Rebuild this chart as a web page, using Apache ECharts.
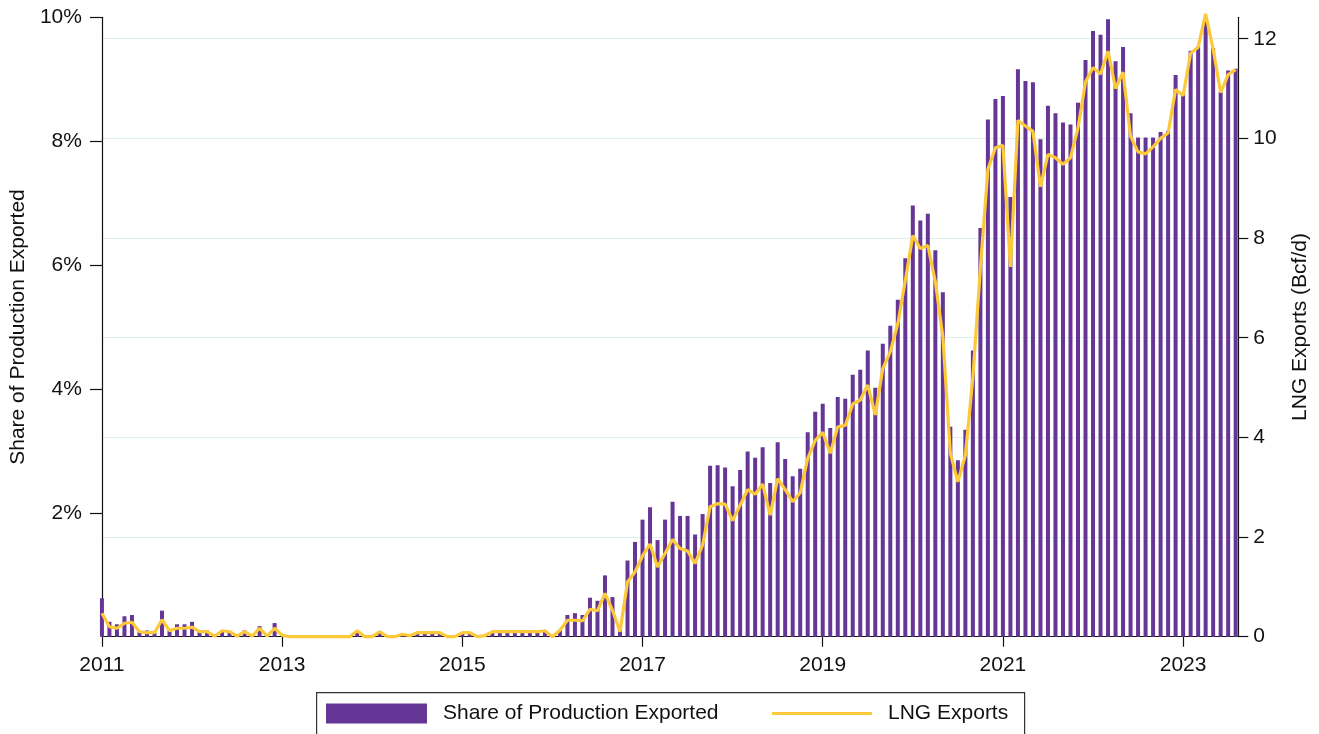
<!DOCTYPE html>
<html>
<head>
<meta charset="utf-8">
<title>LNG exports</title>
<script src="https://cdn.jsdelivr.net/npm/echarts@6/dist/echarts.min.js"></script>
<style>
  html, body { margin: 0; padding: 0; background: #fff; }
  #chart { width: 1319px; height: 734px; }
</style>
</head>
<body>
<div id="chart"></div>
<script>
// monthly, Jan 2011 .. Aug 2023
const startYear = 2011
const yearTicks = ['2011', '2013', '2015', '2017', '2019', '2021', '2023']

// share of dry gas production exported as LNG (%)
const shareExported = [
  0.62, 0.24, 0.20, 0.33, 0.35, 0.08, 0.10, 0.06, 0.42, 0.10, 0.20, 0.20,
  0.24, 0.08, 0.10, 0.03, 0.10, 0.09, 0.02, 0.10, 0.02, 0.17, 0.02, 0.22,
  0, 0, 0, 0, 0, 0, 0, 0, 0, 0, 0.08, 0,
  0, 0.08, 0, 0, 0.02, 0.02, 0.07, 0.07, 0.07, 0.07, 0, 0,
  0.07, 0.07, 0, 0.02, 0.06, 0.07, 0.07, 0.07, 0.07, 0.07, 0.08, 0.09,
  0.03, 0.10, 0.35, 0.38, 0.35, 0.63, 0.58, 0.99, 0.64, 0.15, 1.23, 1.53,
  1.89, 2.09, 1.56, 1.89, 2.18, 1.95, 1.95, 1.65, 1.98, 2.76, 2.77, 2.73,
  2.43, 2.69, 2.99, 2.89, 3.06, 2.48, 3.14, 2.87, 2.59, 2.71, 3.30, 3.63,
  3.76, 3.37, 3.87, 3.84, 4.23, 4.31, 4.62, 4.02, 4.73, 5.02, 5.44, 6.11,
  6.96, 6.72, 6.83, 6.24, 5.56, 3.39, 2.85, 3.34, 4.62, 6.60, 8.35, 8.68,
  8.73, 7.10, 9.16, 8.97, 8.95, 8.03, 8.57, 8.45, 8.30, 8.27, 8.62, 9.31,
  9.78, 9.72, 9.97, 9.29, 9.52, 8.45, 8.06, 8.06, 8.06, 8.15, 8.17, 9.07,
  8.77, 9.46, 9.53, 9.98, 9.50, 8.80, 9.14, 9.17
]

// LNG exports (Bcf/d)
const lngExports = [
  0.47, 0.20, 0.17, 0.27, 0.29, 0.10, 0.08, 0.08, 0.34, 0.12, 0.17, 0.17,
  0.19, 0.10, 0.10, 0.01, 0.12, 0.10, 0.01, 0.10, 0.01, 0.17, 0.01, 0.17,
  0.03, 0, 0, 0, 0, 0, 0, 0, 0, 0, 0.12, 0,
  0, 0.10, 0, 0, 0.05, 0.02, 0.08, 0.08, 0.08, 0.08, 0, 0,
  0.08, 0.08, 0, 0.02, 0.10, 0.10, 0.10, 0.10, 0.10, 0.10, 0.10, 0.12,
  0.00, 0.13, 0.33, 0.33, 0.32, 0.55, 0.52, 0.87, 0.53, 0.10, 1.10, 1.30,
  1.62, 1.86, 1.40, 1.67, 1.95, 1.77, 1.72, 1.47, 1.84, 2.61, 2.67, 2.66,
  2.33, 2.64, 2.95, 2.86, 3.06, 2.44, 3.17, 2.95, 2.71, 2.89, 3.58, 3.94,
  4.10, 3.68, 4.21, 4.24, 4.67, 4.75, 5.05, 4.45, 5.38, 5.72, 6.28, 7.15,
  8.05, 7.79, 7.85, 7.12, 6.02, 3.68, 3.11, 3.64, 5.21, 7.40, 9.38, 9.81,
  9.86, 7.42, 10.36, 10.25, 10.14, 9.03, 9.68, 9.61, 9.48, 9.61, 10.21, 11.13,
  11.42, 11.29, 11.75, 11.00, 11.33, 10.04, 9.73, 9.69, 9.83, 10.00, 10.11, 10.98,
  10.86, 11.71, 11.83, 12.50, 11.79, 10.92, 11.28, 11.38
]

const font = 'Liberation Sans, Arial, sans-serif'
const ink = '#111'
const barColor = '#663696'
const lineColor = '#fcc93b'

const chart = echarts.init(document.getElementById('chart'))

const option = {
  animation: false,
  backgroundColor: '#fff',
  textStyle: { fontFamily: font, color: ink },
  grid: { left: 101.7, right: 80.7, top: 17.3, bottom: 97.3 },
  graphic: [
    {
      type: 'rect',
      left: 316,
      top: 692,
      shape: { width: 708, height: 60 },
      style: { fill: '#fff', stroke: '#333', lineWidth: 1.2 },
      z: 0
    }
  ],
  legend: [
    {
      left: 326,
      top: 703,
      padding: 0,
      icon: 'rect',
      itemWidth: 101,
      itemHeight: 20,
      data: ['Share of Production Exported'],
      textStyle: { fontFamily: font, fontSize: 21, color: ink, padding: [0, 0, 0, 11] },
      z: 5
    },
    {
      left: 772,
      top: 703,
      padding: 0,
      icon: 'rect',
      itemWidth: 100,
      itemHeight: 3,
      data: ['LNG Exports'],
      textStyle: { fontFamily: font, fontSize: 21, color: ink, padding: [0, 0, 0, 11] },
      z: 5
    }
  ],
  xAxis: {
    type: 'value',
    min: 0,
    max: 151.35,
    interval: 24,
    axisLine: { lineStyle: { color: ink, width: 1.2 } },
    axisTick: { show: true, length: 10, lineStyle: { color: ink, width: 1.2 } },
    axisLabel: {
      fontFamily: font,
      fontSize: 21,
      color: ink,
      margin: 18,
      showMaxLabel: false,
      formatter: v => yearTicks[Math.round(v / 24)] || String(startYear + v / 12)
    },
    splitLine: { show: false }
  },
  yAxis: [
    {
      type: 'value',
      min: 0,
      max: 10,
      interval: 2,
      name: 'Share of Production Exported',
      nameLocation: 'middle',
      nameGap: 71,
      nameTextStyle: { fontFamily: font, fontSize: 21, color: ink },
      axisLine: { show: true, lineStyle: { color: ink, width: 1.2 } },
      axisTick: { show: true, length: 12, lineStyle: { color: ink, width: 1.2 } },
      axisLabel: {
        fontFamily: font,
        fontSize: 21,
        color: ink,
        margin: 20,
        showMinLabel: false,
        formatter: v => v + '%'
      },
      splitLine: { show: false }
    },
    {
      type: 'value',
      min: 0,
      max: 12.43,
      interval: 2,
      position: 'right',
      name: 'LNG Exports (Bcf/d)',
      nameLocation: 'middle',
      nameGap: 51,
      nameRotate: 90,
      nameTextStyle: { fontFamily: font, fontSize: 21, color: ink },
      axisLine: { show: true, lineStyle: { color: ink, width: 1.2 } },
      axisTick: { show: true, length: 10, lineStyle: { color: ink, width: 1.2 } },
      axisLabel: {
        fontFamily: font,
        fontSize: 21,
        color: ink,
        margin: 15,
        showMaxLabel: false
      },
      splitLine: {
        show: true,
        showMinLine: false,
        showMaxLine: false,
        lineStyle: { color: '#dcefef', width: 1 }
      }
    }
  ],
  series: [
    {
      name: 'Share of Production Exported',
      type: 'bar',
      yAxisIndex: 0,
      barWidth: 4,
      clip: true,
      itemStyle: { color: barColor },
      data: shareExported.map((v, i) => [i, v]),
      z: 2
    },
    {
      name: 'LNG Exports',
      type: 'line',
      yAxisIndex: 1,
      symbol: 'none',
      clip: false,
      lineStyle: { color: lineColor, width: 3.2 },
      itemStyle: { color: lineColor },
      data: lngExports.map((v, i) => [i, v]),
      z: 3
    }
  ]
}

chart.setOption(option)
</script>
</body>
</html>
